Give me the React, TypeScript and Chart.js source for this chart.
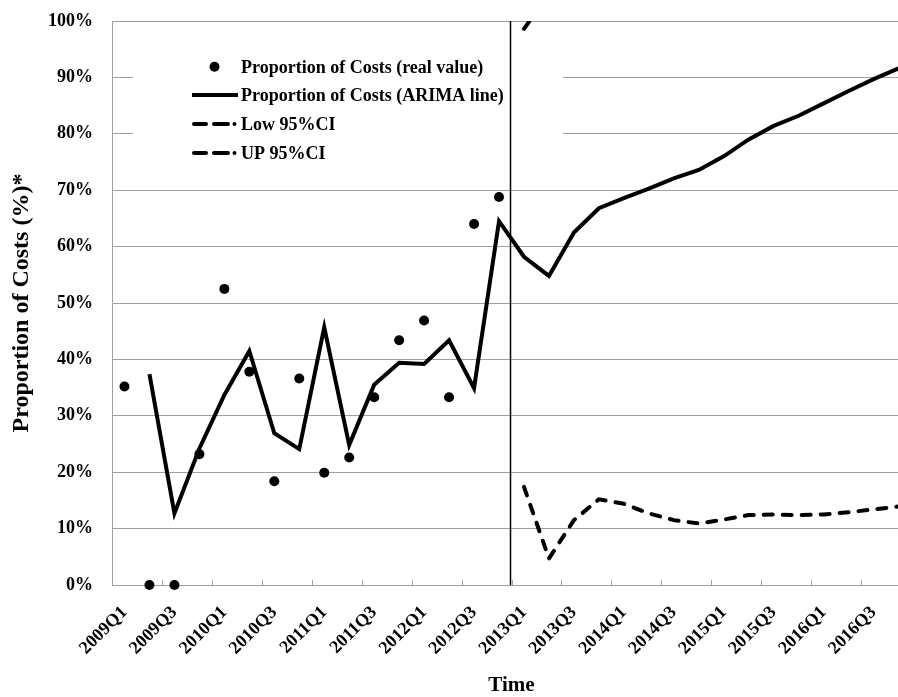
import React, { useEffect, useRef } from 'react';
import { Chart, registerables } from 'chart.js';

Chart.register(...registerables);

const quarters = [
  '2009Q1', '2009Q2', '2009Q3', '2009Q4',
  '2010Q1', '2010Q2', '2010Q3', '2010Q4',
  '2011Q1', '2011Q2', '2011Q3', '2011Q4',
  '2012Q1', '2012Q2', '2012Q3', '2012Q4',
  '2013Q1', '2013Q2', '2013Q3', '2013Q4',
  '2014Q1', '2014Q2', '2014Q3', '2014Q4',
  '2015Q1', '2015Q2', '2015Q3', '2015Q4',
  '2016Q1', '2016Q2', '2016Q3', '2016Q4',
];

const realValue = [
  35.2, 0, 0, 23.2, 52.5, 37.8, 18.4, 36.6, 19.9, 22.6, 33.3, 43.4, 46.9, 33.3, 64.0, 68.8,
  null, null, null, null, null, null, null, null, null, null, null, null, null, null, null, null,
];

const arimaLine = [
  null, 37.4, 12.7, 24.2, 33.7, 41.5, 26.9, 24.1, 45.7, 24.8, 35.5, 39.4, 39.2, 43.4, 34.9, 64.5,
  58.2, 54.8, 62.5, 66.8, 68.6, 70.3, 72.1, 73.6, 76.0, 79.0, 81.4, 83.2, 85.4, 87.6, 89.7, 91.6,
];

const low95 = [
  null, null, null, null, null, null, null, null, null, null, null, null, null, null, null, null,
  17.4, 4.7, 11.5, 15.2, 14.4, 12.7, 11.5, 10.9, 11.6, 12.4, 12.5, 12.4, 12.5, 12.9, 13.4, 13.9,
];

const up95 = [
  null, null, null, null, null, null, null, null, null, null, null, null, null, null, null, null,
  98.6, 104.9, 113.5, 118.4, 122.8, 127.9, 132.7, 136.3, 140.4, 145.6, 150.3, 154.0, 158.3, 162.3, 166.0, 169.3,
];

const seriesNames = [
  'Proportion of Costs (real value)',
  'Proportion of Costs (ARIMA line)',
  'Low 95%CI',
  'UP 95%CI',
];

const forecastStartIndex = 16;
const yAxisTitle = 'Proportion of Costs (%)*';
const xAxisTitle = 'Time';

const FONT = '"Liberation Serif", "Times New Roman", serif';
const GRID = '#a0a0a0';

const overlayPlugin = {
  id: 'overlay',
  beforeDatasetsDraw(chart: any) {
    const { ctx, chartArea } = chart;
    const x = chart.scales.x;
    const step = x.getPixelForValue(1) - x.getPixelForValue(0);
    const first = x.getPixelForValue(0) - step / 2;
    ctx.save();
    // inside tick marks every two quarters
    ctx.strokeStyle = GRID;
    ctx.lineWidth = 1;
    for (let i = 0; i <= quarters.length; i += 2) {
      const px = Math.round(first + i * step) + 0.5;
      ctx.beginPath();
      ctx.moveTo(px, chartArea.bottom);
      ctx.lineTo(px, chartArea.bottom - 5);
      ctx.stroke();
    }
    // legend box
    const lx = chartArea.left + 21;
    const ly = chartArea.top + 9;
    ctx.fillStyle = '#ffffff';
    ctx.fillRect(lx, ly, 430, 150);
    ctx.fillStyle = '#000';
    ctx.strokeStyle = '#000';
    ctx.font = `bold 18px ${FONT}`;
    ctx.textBaseline = 'alphabetic';
    ctx.textAlign = 'left';
    const baselines = [72.7, 101, 130, 159];
    const textX = 241;
    seriesNames.forEach((name, k) => {
      const by = baselines[k];
      const my = by - 6;
      if (k === 0) {
        ctx.beginPath();
        ctx.arc(214.5, my, 5, 0, Math.PI * 2);
        ctx.fill();
      } else if (k === 1) {
        ctx.lineWidth = 4;
        ctx.lineCap = 'butt';
        ctx.beginPath();
        ctx.moveTo(192, my);
        ctx.lineTo(238, my);
        ctx.stroke();
      } else {
        ctx.lineWidth = 4;
        ctx.lineCap = 'round';
        ctx.beginPath();
        ctx.moveTo(194, my);
        ctx.lineTo(206, my);
        ctx.moveTo(214, my);
        ctx.lineTo(228, my);
        ctx.stroke();
        ctx.beginPath();
        ctx.arc(234.5, my, 2, 0, Math.PI * 2);
        ctx.fill();
      }
      ctx.fillText(name, textX, by);
    });
    // forecast divider line
    const vx = first + forecastStartIndex * step - 1;
    ctx.strokeStyle = '#000';
    ctx.lineWidth = 1.5;
    ctx.lineCap = 'butt';
    ctx.beginPath();
    ctx.moveTo(vx, chartArea.top);
    ctx.lineTo(vx, chartArea.bottom);
    ctx.stroke();
    ctx.restore();
  },
};

export default function App() {
  const ref = useRef<HTMLCanvasElement | null>(null);

  useEffect(() => {
    const canvas = ref.current;
    if (!canvas) return;
    Chart.defaults.font.family = FONT;
    Chart.defaults.color = '#000';
    const chart = new Chart(canvas, {
      type: 'line',
      data: {
        labels: quarters,
        datasets: [
          {
            label: seriesNames[0],
            data: realValue,
            showLine: false,
            pointRadius: 5,
            pointBackgroundColor: '#000',
            pointBorderWidth: 0,
            borderColor: '#000',
            clip: false,
          },
          {
            label: seriesNames[1],
            data: arimaLine,
            borderColor: '#000',
            borderWidth: 4,
            pointRadius: 0,
            borderJoinStyle: 'miter',
            tension: 0,
            clip: 0,
          },
          {
            label: seriesNames[2],
            data: low95,
            borderColor: '#000',
            borderWidth: 4,
            borderDash: [9, 10],
            borderCapStyle: 'round',
            pointRadius: 0,
            tension: 0,
            clip: 0,
          },
          {
            label: seriesNames[3],
            data: up95,
            borderColor: '#000',
            borderWidth: 4,
            borderDash: [9, 10],
            borderCapStyle: 'round',
            pointRadius: 0,
            tension: 0,
            clip: 0,
          },
        ] as any,
      },
      options: {
        animation: false,
        responsive: false,
        devicePixelRatio: 1,
        layout: { padding: { top: 21, left: 0, right: 0, bottom: 0 } },
        plugins: {
          legend: { display: false },
          tooltip: { enabled: false },
        },
        scales: {
          x: {
            type: 'category',
            offset: true,
            grid: { display: true, drawOnChartArea: false, drawTicks: false, color: 'rgba(0,0,0,0)' },
            border: { display: true, color: GRID, width: 1 },
            ticks: {
              autoSkip: false,
              minRotation: 45,
              maxRotation: 45,
              padding: 17,
              font: { size: 18, weight: 'bold', family: FONT },
              color: '#000',
              callback: function (this: any, value: any, index: number) {
                return index % 2 === 0 ? quarters[index] : '';
              },
            },
            title: {
              display: true,
              text: xAxisTitle,
              font: { size: 21, weight: 'bold', family: FONT, lineHeight: 1 },
              color: '#000',
              padding: { top: 0, bottom: 0.5 },
            },
            afterFit: (scale: any) => {
              scale.height = 112;
              scale.paddingLeft = 0;
              scale.paddingRight = 0;
            },
          },
          y: {
            min: 0,
            max: 100,
            grid: { color: GRID, lineWidth: 1, drawTicks: false },
            border: { display: true, color: GRID, width: 1 },
            ticks: {
              stepSize: 10,
              padding: 19,
              font: { size: 18, weight: 'bold', family: FONT },
              color: '#000',
              callback: (v: any) => `${v}%`,
            },
            title: {
              display: true,
              text: yAxisTitle,
              font: { size: 24, weight: 'bold', family: FONT },
              color: '#000',
              padding: { top: 7, bottom: 0 },
            },
            afterFit: (scale: any) => {
              scale.width = 112;
              scale.paddingTop = 0;
              scale.paddingBottom = 0;
            },
          },
        },
      } as any,
      plugins: [overlayPlugin],
    });
    return () => chart.destroy();
  }, []);

  return (
    <div style={{ position: 'fixed', left: 0, top: 0, width: 898, height: 697, overflow: 'hidden', background: '#fff' }}>
      <canvas ref={ref} width={916} height={697} style={{ display: 'block', width: 916, height: 697 }} />
    </div>
  );
}
